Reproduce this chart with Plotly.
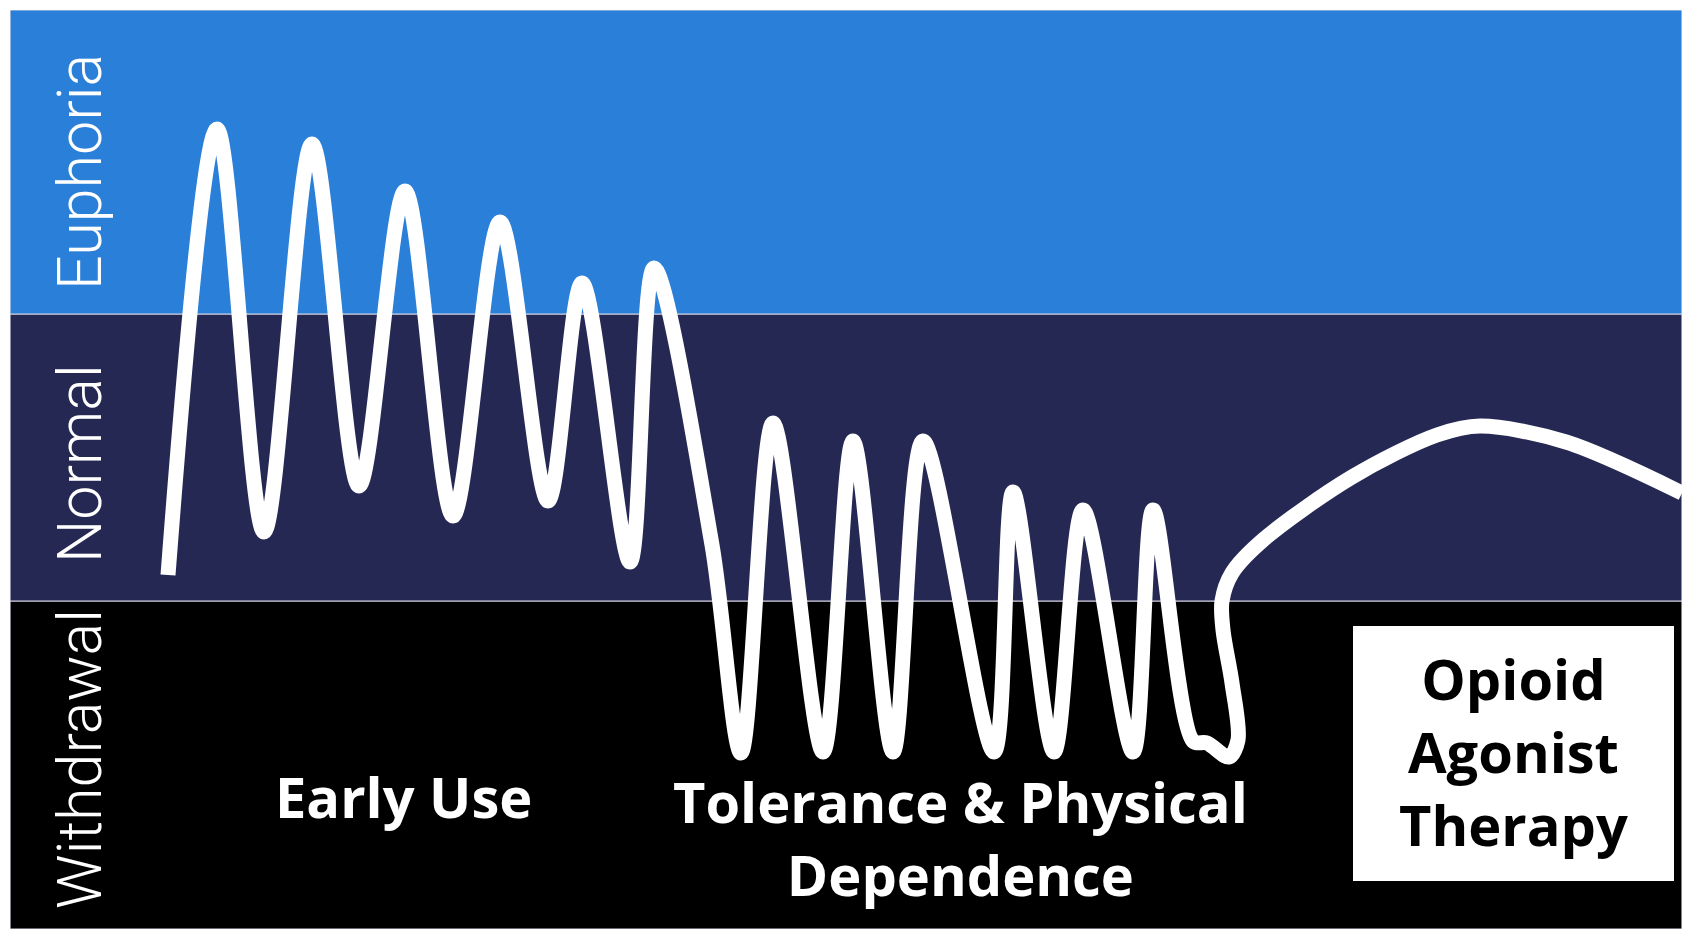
import plotly.graph_objects as go

# Course of drug effect over time (x = time, y = level of effect)
time = [168, 217, 264, 312, 359, 405, 453, 500, 548, 582, 630, 654, 712,
        741, 773, 823, 853, 893, 923, 994, 1013, 1054, 1083, 1133, 1153,
        1193, 1207, 1229, 1238, 1232, 1223, 1222, 1232,
        1263, 1352, 1437, 1480, 1566, 1682]
effect = [354, 800, 397, 785, 443, 738, 413, 707, 428, 646, 367, 661, 384,
          176, 506, 177, 488, 177, 488, 177, 437, 177, 419, 177, 419,
          188, 186, 172, 189, 246, 299, 328, 356,
          389, 452, 494, 503, 487, 436]

# Effect zones (lower, upper bound), their labels and label positions
zone_names = ["Withdrawal", "Normal", "Euphoria"]
zone_bounds = [(0, 328), (328, 615), (615, 919)]
zone_colors = ["#000000", "#262854", "#2A7FD8"]
zone_label_y = [170, 465, 757]

# Phase labels along the bottom
phase_labels = ["Early Use", "Tolerance & Physical<br>Dependence"]
phase_x = [403, 960]
phase_y = [133, 92]

therapy_label = "Opioid<br>Agonist<br>Therapy"

X_MIN, X_MAX = 10, 1682
Y_MIN, Y_MAX = 0, 919

fig = go.Figure()

for (lo, hi), col in zip(zone_bounds, zone_colors):
    fig.add_shape(type="rect", xref="x", yref="y", x0=X_MIN, x1=X_MAX,
                  y0=lo, y1=hi, fillcolor=col, layer="below",
                  line=dict(color="#d4d6e4", width=1.2))

fig.add_trace(go.Scatter(
    x=time, y=effect, mode="lines",
    line=dict(color="white", width=15, shape="spline", smoothing=0.9),
    hoverinfo="skip", showlegend=False,
))

for name, ly in zip(zone_names, zone_label_y):
    fig.add_annotation(
        x=80, y=ly, xref="x", yref="y", text=name,
        showarrow=False, textangle=-90,
        font=dict(family="Roboto", size=61, color="white", weight=300),
    )

for label, px, py in zip(phase_labels, phase_x, phase_y):
    fig.add_annotation(
        x=px, y=py, xref="x", yref="y", text=label, showarrow=False,
        font=dict(family="Open Sans", size=56, color="white", weight="bold"),
    )

# Therapy box
fig.add_shape(type="rect", xref="x", yref="y", x0=1353, x1=1674, y0=48, y1=303,
              fillcolor="white", line=dict(width=0), layer="above")
fig.add_annotation(
    x=1513, y=178, xref="x", yref="y", text=therapy_label, showarrow=False,
    font=dict(family="Open Sans", size=56, color="black", weight="bold"),
)

fig.update_xaxes(range=[X_MIN, X_MAX], visible=False, fixedrange=True)
fig.update_yaxes(range=[Y_MIN, Y_MAX], visible=False, fixedrange=True)
fig.update_layout(
    width=1682, height=929,
    margin=dict(l=10, r=0, t=10, b=0),
    paper_bgcolor="white", plot_bgcolor="white",
    showlegend=False,
)

fig.write_html("out.html")
